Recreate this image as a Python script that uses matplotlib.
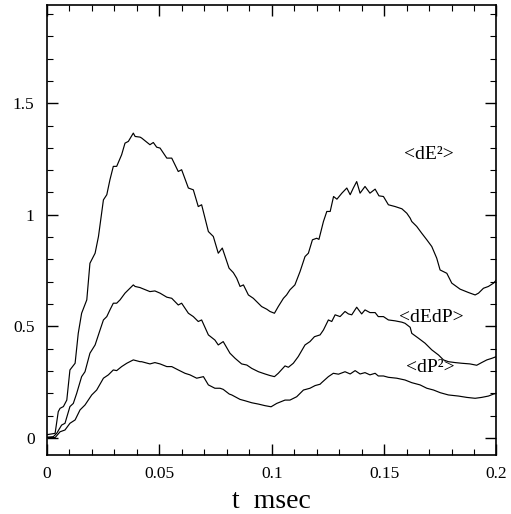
import matplotlib
matplotlib.use("Agg")
import matplotlib.pyplot as plt
from matplotlib.ticker import MultipleLocator, FuncFormatter

plt.rcParams['font.family'] = ['Liberation Serif', 'DejaVu Serif']

# <dE^2>
t_ee = [0, 0.0036, 0.005, 0.0058, 0.0073, 0.0088, 0.0102, 0.0125, 0.0139, 0.0154,
        0.0177, 0.0191, 0.0214, 0.0229, 0.0251, 0.0266, 0.028, 0.0295, 0.031, 0.0332,
        0.0347, 0.0362, 0.0384, 0.0392, 0.0414, 0.0421, 0.0458, 0.0473, 0.0488, 0.0503,
        0.0533, 0.0555, 0.0584, 0.0599, 0.0629, 0.0651, 0.0673, 0.0688, 0.0718, 0.074,
        0.0762, 0.078, 0.081, 0.0829, 0.0844, 0.0859, 0.0874, 0.0896, 0.0918, 0.094,
        0.0955, 0.0978, 0.0992, 0.1012, 0.1029, 0.1052, 0.1066, 0.1081, 0.1103, 0.1126,
        0.1148, 0.1163, 0.1181, 0.12, 0.121, 0.123, 0.1245, 0.126, 0.1275, 0.129,
        0.1312, 0.1334, 0.1349, 0.1363, 0.1378, 0.1393, 0.1415, 0.1437, 0.146, 0.1477,
        0.1497, 0.1519, 0.1549, 0.1579, 0.1601, 0.1616, 0.1623, 0.1645, 0.1667, 0.169,
        0.1712, 0.1734, 0.1749, 0.1779, 0.1801, 0.1838, 0.1875, 0.1905, 0.192, 0.1942,
        0.1964, 0.1987, 0.2]
v_ee = [0.015, 0.021, 0.118, 0.133, 0.141, 0.170, 0.305, 0.335, 0.469, 0.559,
        0.619, 0.783, 0.828, 0.903, 1.067, 1.090, 1.157, 1.217, 1.217, 1.269,
        1.321, 1.329, 1.366, 1.351, 1.348, 1.344, 1.314, 1.324, 1.303, 1.299,
        1.254, 1.254, 1.194, 1.202, 1.120, 1.112, 1.037, 1.045, 0.925, 0.903,
        0.828, 0.851, 0.761, 0.741, 0.716, 0.679, 0.686, 0.641, 0.626, 0.604,
        0.589, 0.577, 0.567, 0.559, 0.589, 0.626, 0.641, 0.664, 0.686, 0.746,
        0.813, 0.828, 0.888, 0.895, 0.890, 0.970, 1.015, 1.015, 1.082, 1.070,
        1.097, 1.120, 1.090, 1.120, 1.149, 1.097, 1.127, 1.097, 1.115, 1.085,
        1.082, 1.045, 1.037, 1.027, 1.007, 0.985, 0.970, 0.948, 0.918, 0.888,
        0.858, 0.806, 0.753, 0.738, 0.694, 0.667, 0.652, 0.641, 0.649, 0.671,
        0.679, 0.694, 0.709]

# <dEdP>
t_ep = [0, 0.0028, 0.0043, 0.0065, 0.008, 0.0102, 0.0117, 0.0132, 0.0154, 0.0169,
        0.0191, 0.0214, 0.0236, 0.0251, 0.0266, 0.028, 0.0295, 0.031, 0.0325, 0.0347,
        0.0362, 0.0384, 0.0392, 0.0414, 0.0421, 0.0458, 0.048, 0.0503, 0.0533, 0.0555,
        0.0584, 0.0599, 0.0629, 0.0651, 0.0673, 0.0688, 0.0718, 0.0747, 0.0762, 0.0784,
        0.0814, 0.0837, 0.0866, 0.0889, 0.0911, 0.0941, 0.097, 0.0992, 0.1012, 0.1029,
        0.1059, 0.1074, 0.1096, 0.1118, 0.1148, 0.117, 0.119, 0.1215, 0.123, 0.1252,
        0.1267, 0.1282, 0.1304, 0.1326, 0.1341, 0.1356, 0.1378, 0.14, 0.1415, 0.1437,
        0.146, 0.1474, 0.1497, 0.1519, 0.1549, 0.1579, 0.1593, 0.1616, 0.1623, 0.1653,
        0.1682, 0.1712, 0.1742, 0.1764, 0.1786, 0.1816, 0.1845, 0.1882, 0.1912, 0.1934,
        0.1957, 0.1979, 0.2]
v_ep = [0.004, 0.006, 0.021, 0.058, 0.066, 0.141, 0.155, 0.200, 0.275, 0.297,
        0.380, 0.417, 0.484, 0.529, 0.544, 0.574, 0.604, 0.604, 0.619, 0.649,
        0.664, 0.686, 0.679, 0.674, 0.671, 0.656, 0.659, 0.649, 0.631, 0.626,
        0.596, 0.604, 0.559, 0.544, 0.522, 0.529, 0.462, 0.439, 0.417, 0.432,
        0.380, 0.357, 0.332, 0.327, 0.312, 0.297, 0.287, 0.280, 0.275, 0.290,
        0.323, 0.317, 0.335, 0.365, 0.417, 0.432, 0.454, 0.462, 0.484, 0.529,
        0.522, 0.552, 0.544, 0.567, 0.556, 0.552, 0.586, 0.556, 0.574, 0.562,
        0.562, 0.544, 0.544, 0.529, 0.525, 0.519, 0.514, 0.496, 0.469, 0.447,
        0.425, 0.395, 0.372, 0.350, 0.342, 0.338, 0.335, 0.332, 0.326, 0.338,
        0.350, 0.357, 0.365]

# <dP^2>
t_pp = [0, 0.0036, 0.0058, 0.008, 0.0102, 0.0125, 0.0147, 0.0169, 0.0199, 0.0221,
        0.0251, 0.0273, 0.0295, 0.031, 0.0332, 0.0355, 0.0384, 0.0414, 0.0421, 0.0458,
        0.048, 0.0503, 0.0533, 0.0555, 0.0584, 0.0614, 0.0636, 0.0666, 0.0696, 0.0718,
        0.0747, 0.077, 0.0784, 0.0811, 0.0822, 0.0859, 0.0881, 0.0911, 0.0941, 0.097,
        0.0997, 0.1022, 0.1059, 0.1081, 0.1111, 0.1141, 0.117, 0.1193, 0.1215, 0.1222,
        0.1252, 0.1274, 0.1297, 0.1326, 0.1349, 0.1371, 0.1393, 0.1415, 0.1437, 0.146,
        0.1474, 0.1497, 0.1519, 0.1556, 0.1593, 0.1623, 0.166, 0.169, 0.172, 0.175,
        0.1786, 0.1831, 0.1868, 0.1905, 0.1934, 0.1964, 0.1987, 0.2]
v_pp = [0.002, 0.002, 0.028, 0.036, 0.066, 0.081, 0.126, 0.148, 0.193, 0.215,
        0.268, 0.283, 0.305, 0.302, 0.320, 0.335, 0.350, 0.342, 0.342, 0.332,
        0.338, 0.332, 0.320, 0.320, 0.305, 0.290, 0.283, 0.268, 0.275, 0.238,
        0.223, 0.223, 0.218, 0.197, 0.193, 0.173, 0.167, 0.158, 0.152, 0.145,
        0.140, 0.155, 0.170, 0.170, 0.185, 0.215, 0.223, 0.235, 0.241, 0.248,
        0.275, 0.290, 0.286, 0.297, 0.287, 0.302, 0.287, 0.293, 0.283, 0.290,
        0.278, 0.278, 0.272, 0.268, 0.260, 0.248, 0.238, 0.223, 0.215, 0.203,
        0.193, 0.188, 0.182, 0.178, 0.182, 0.188, 0.197, 0.200]

labels = ['<dE\u00b2>', '<dEdP>', '<dP\u00b2>']
label_x = [0.170, 0.171, 0.1705]
label_y = [1.27, 0.538, 0.318]

fig = plt.figure(figsize=(5.11, 5.14), dpi=100)
ax = fig.add_axes([0.092, 0.1148, 0.8796, 0.8755])

ax.plot(t_ee, v_ee, color='black', lw=0.85)
ax.plot(t_ep, v_ep, color='black', lw=0.85)
ax.plot(t_pp, v_pp, color='black', lw=0.85)

for s, x, y in zip(labels, label_x, label_y):
    ax.text(x, y, s, fontsize=14, ha='center', va='center')

ax.set_xlim(0, 0.2)
ax.set_ylim(-0.076, 1.94)
ax.xaxis.set_major_locator(MultipleLocator(0.05))
ax.xaxis.set_minor_locator(MultipleLocator(0.01))
ax.yaxis.set_major_locator(MultipleLocator(0.5))
ax.yaxis.set_minor_locator(MultipleLocator(0.1))
fmt = FuncFormatter(lambda v, p: '%g' % round(v, 3))
ax.xaxis.set_major_formatter(fmt)
ax.yaxis.set_major_formatter(fmt)
ax.tick_params(which='both', direction='in', top=True, right=True, labelsize=12.5)
ax.tick_params(axis='x', which='major', length=8, width=1, pad=8)
ax.tick_params(axis='y', which='major', length=8, width=1, pad=9)
ax.tick_params(which='minor', length=4.5, width=0.8)
for sp in ax.spines.values():
    sp.set_linewidth(1.2)

ax.set_xlabel('t  msec', fontsize=20, labelpad=5)

fig.savefig('out.png', dpi=100)
